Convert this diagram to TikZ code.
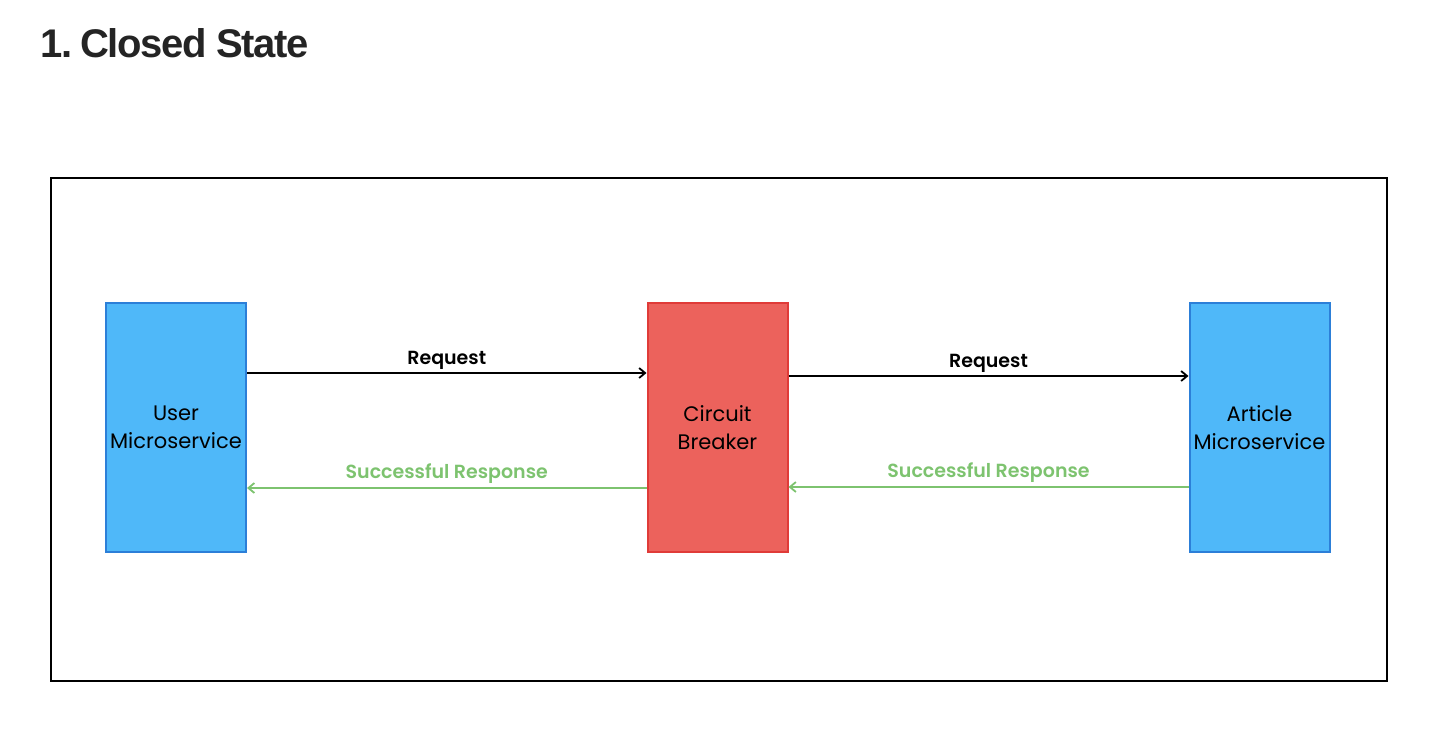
\documentclass[tikz,border=0pt]{standalone}
\usepackage{fontspec}
\setmainfont{Poppins}[BoldFont={* SemiBold}]
\newfontfamily\titlefont{Liberation Sans}[LetterSpace=-3.5]
\usetikzlibrary{arrows.meta}
\definecolor{boxblue}{HTML}{4FB8F9}
\definecolor{boxblueline}{HTML}{2C7FD8}
\definecolor{boxred}{HTML}{EC625C}
\definecolor{boxredline}{HTML}{E03B38}
\definecolor{okgreen}{HTML}{7DC36F}
\definecolor{titlegray}{HTML}{242424}
\tikzset{
  svc/.style={draw=boxblueline, fill=boxblue, line width=1pt, minimum width=70pt, minimum height=124.5pt, inner sep=0pt, align=center, font=\fontsize{10.5}{14}\selectfont},
  cbbox/.style={svc, draw=boxredline, fill=boxred},
  req/.style={draw=black, line width=0.9pt, -{Straight Barb[length=3pt,width=5pt,line width=0.9pt]}},
  resp/.style={draw=okgreen, line width=0.9pt, -{Straight Barb[length=3pt,width=5pt,line width=0.9pt]}},
  reqlab/.style={font=\bfseries\fontsize{9.5}{11}\selectfont, inner sep=0pt},
  resplab/.style={reqlab, text=okgreen},
}
\begin{document}
\begin{tikzpicture}[x=0.5pt,y=-0.5pt]
\useasboundingbox (0,0) rectangle (1456,734);
\node[anchor=base west, inner sep=0pt, text=titlegray, font=\titlefont\bfseries\fontsize{20}{22}\selectfont] (title) at (40,57) {1.\hspace{4pt}Closed State};
\node[draw=black, line width=1pt, minimum width=668pt, minimum height=251.5pt, inner sep=0pt] (frame) at (719,429.5) {};
\node[svc] (user) at (176,427.5) {User\\Microservice};
\node[cbbox] (cb) at (717.5,427.5) {Circuit\\Breaker};
\node[svc] (art) at (1259.5,427.5) {Article\\Microservice};
\draw[req] ([yshift=27.25pt]user.east) -- ([yshift=27.25pt]cb.west) node[reqlab, midway, above=1.5pt] (rq1) {Request};
\draw[req] ([yshift=25.75pt]cb.east) -- ([yshift=25.75pt]art.west) node[reqlab, midway, above=1.5pt] (rq2) {Request};
\draw[resp] ([yshift=-30.25pt]cb.west) -- ([yshift=-30.25pt]user.east) node[resplab, midway, above=2pt] (rs1) {Successful Response};
\draw[resp] ([yshift=-29.75pt]art.west) -- ([yshift=-29.75pt]cb.east) node[resplab, midway, above=2pt] (rs2) {Successful Response};
\end{tikzpicture}
\end{document}
